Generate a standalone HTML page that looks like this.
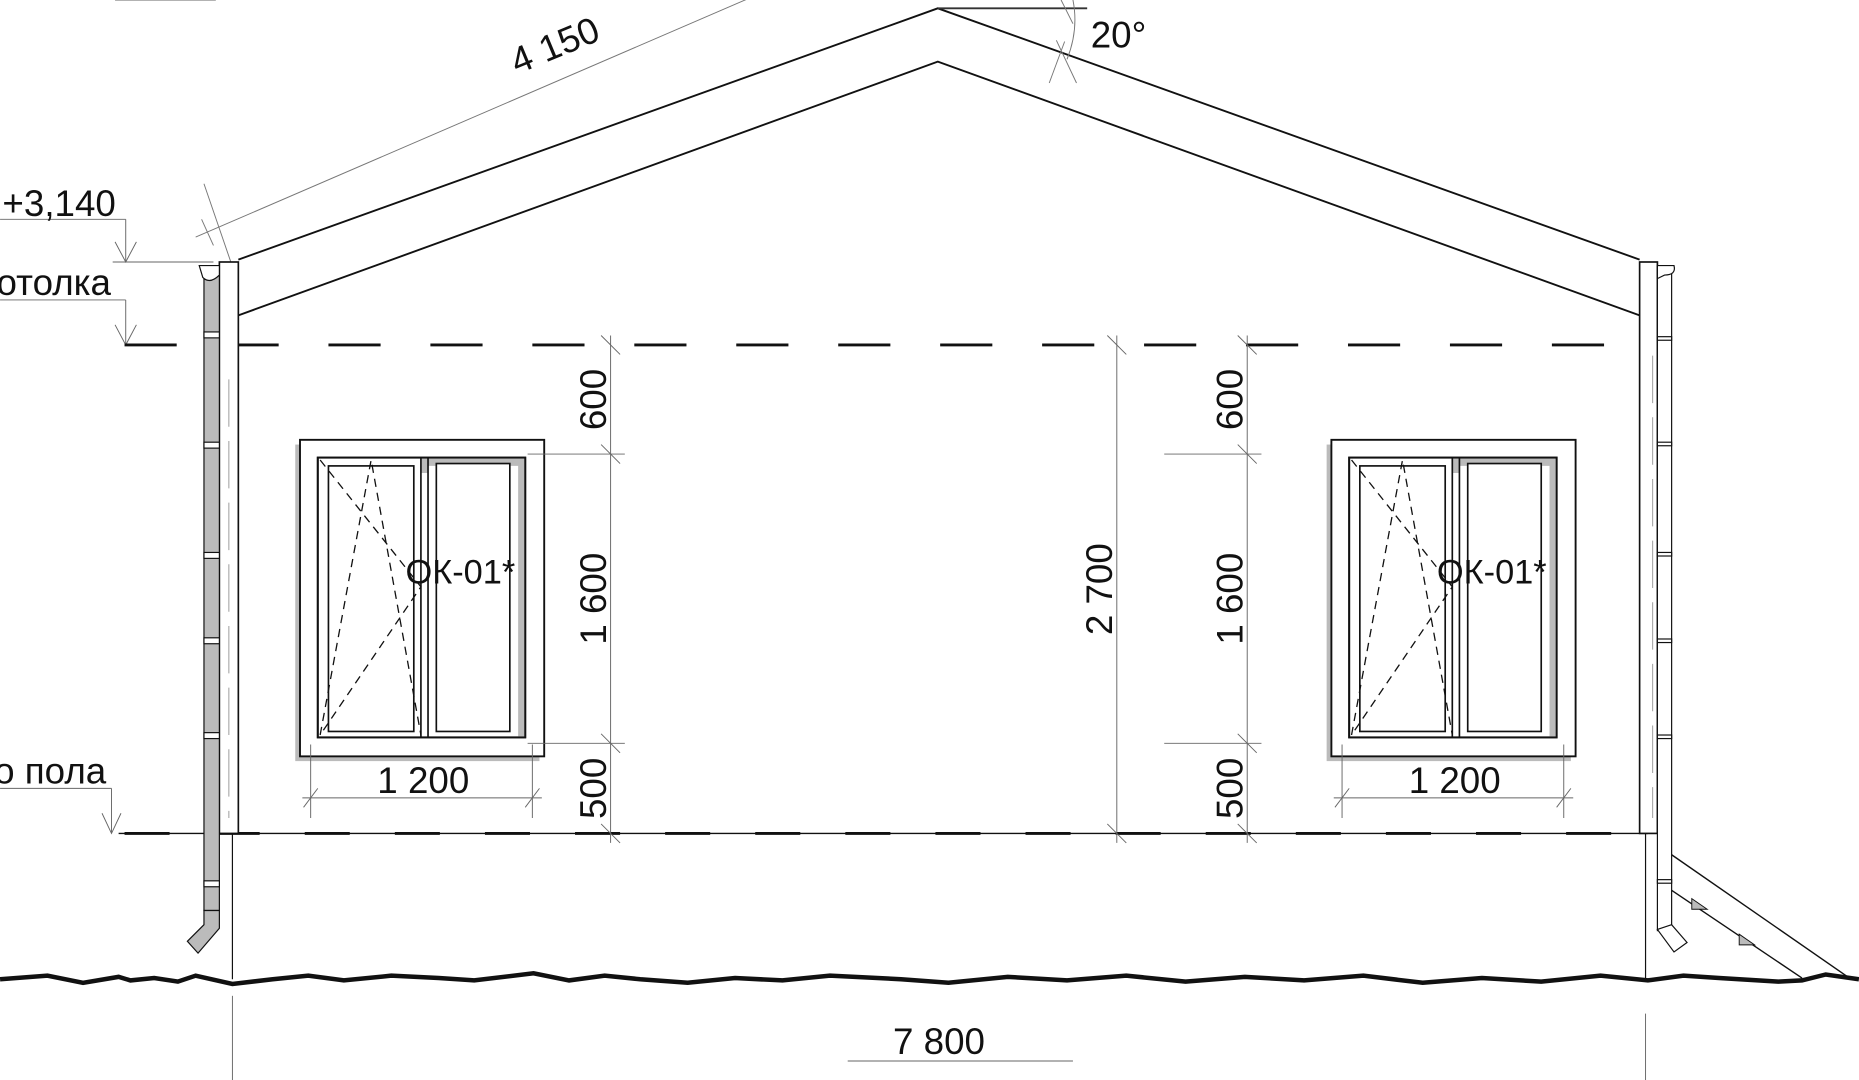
<!DOCTYPE html>
<html><head><meta charset="utf-8"><style>html,body{margin:0;padding:0;background:#fff}svg{display:block}text{font-family:"Liberation Sans",sans-serif;fill:#111}</style></head><body>
<svg width="1859" height="1080" viewBox="0 0 1568 911" xmlns="http://www.w3.org/2000/svg">
<defs>
<g id="win">
<rect x="249" y="375" width="206" height="267" fill="#bbb"/>
<rect x="253" y="371" width="206" height="267" fill="#fff" stroke="#111" stroke-width="1.6"/>
<rect x="268" y="386" width="175" height="236" fill="#fff" stroke="#111" stroke-width="1.6"/>
<polygon points="268,386 443,386 443,622 437,622 437,393 361,393 361,399 355,399 355,386" fill="#bbb"/>
<rect x="268" y="386" width="175" height="236" fill="none" stroke="#111" stroke-width="1.6"/>
<line x1="355" y1="386" x2="355" y2="622" stroke="#111" stroke-width="1.4"/>
<line x1="361" y1="386" x2="361" y2="622" stroke="#111" stroke-width="1.4"/>
<rect x="277" y="393" width="72" height="224" fill="#fff" stroke="#111" stroke-width="1.4"/>
<rect x="368" y="391" width="62" height="226" fill="#fff" stroke="#111" stroke-width="1.4"/>
<polyline points="270,388 355,495 270,620" fill="none" stroke="#111" stroke-width="1.1" stroke-dasharray="7,5"/>
<polyline points="270,620 313,388 355,620" fill="none" stroke="#111" stroke-width="1.1" stroke-dasharray="7,5"/>
<text x="342" y="492" font-size="29">ОК-01*</text>
<g stroke="#666" stroke-width="0.8">
<line x1="262" y1="628" x2="262" y2="690"/><line x1="449" y1="628" x2="449" y2="690"/>
<line x1="255" y1="673" x2="457" y2="673"/>
<line x1="256" y1="681" x2="268" y2="665"/><line x1="443" y1="681" x2="455" y2="665"/>
</g>
<text x="357" y="669" font-size="31" text-anchor="middle">1 200</text>
</g>
<g id="vdim">
<g stroke="#666" stroke-width="0.8">
<line x1="515" y1="283" x2="515" y2="711"/>
<line x1="445" y1="383" x2="527" y2="383"/><line x1="445" y1="627" x2="527" y2="627"/>
<line x1="507" y1="283" x2="523" y2="299"/><line x1="507" y1="375" x2="523" y2="391"/>
<line x1="507" y1="619" x2="523" y2="635"/><line x1="507" y1="695" x2="523" y2="711"/>
</g>
<text transform="translate(511,337) rotate(-90)" font-size="31" text-anchor="middle">600</text>
<text transform="translate(511,505) rotate(-90)" font-size="31" text-anchor="middle">1 600</text>
<text transform="translate(511,665) rotate(-90)" font-size="31" text-anchor="middle">500</text>
</g>
</defs>

<polyline points="201,219 791,7 1383,219" fill="none" stroke="#111" stroke-width="1.6"/>
<polyline points="201,266 791,52 1383,266" fill="none" stroke="#111" stroke-width="1.6"/>
<line x1="791" y1="7" x2="917" y2="7" stroke="#333" stroke-width="1.6"/>
<path d="M 905 0 Q 910 25 900 50" fill="none" stroke="#777" stroke-width="0.8"/>
<g stroke="#777" stroke-width="0.8"><line x1="895" y1="0" x2="905" y2="20"/><line x1="891" y1="34" x2="908" y2="70"/><line x1="898" y1="35" x2="885" y2="70"/></g>
<text x="920" y="40" font-size="31">20°</text>
<g stroke="#777" stroke-width="0.8">
<line x1="165" y1="200" x2="640" y2="-5"/>
<line x1="172" y1="155" x2="195" y2="222"/>
<line x1="170" y1="185" x2="180" y2="207"/>
</g>
<text transform="translate(472,48) rotate(-22.5)" font-size="31" text-anchor="middle">4 150</text>

<g stroke="#666" stroke-width="0.8" fill="none">
<line x1="97" y1="0" x2="182" y2="0"/>
<line x1="0" y1="185" x2="106" y2="185"/><line x1="106" y1="185" x2="106" y2="221"/><polyline points="97,204 106,221 115,204"/>
<line x1="95" y1="221" x2="180" y2="221"/>
<line x1="0" y1="253" x2="106" y2="253"/><line x1="106" y1="253" x2="106" y2="291"/><polyline points="97,274 106,291 115,274"/>
<line x1="0" y1="665" x2="94" y2="665"/><line x1="94" y1="665" x2="94" y2="703"/><polyline points="86,686 94,703 102,686"/>
</g>
<text x="2" y="182" font-size="31">+3,140</text>
<text x="-3" y="249" font-size="31">отолка</text>
<text x="-5" y="661" font-size="31">о пола</text>

<line x1="105" y1="291" x2="1390" y2="291" stroke="#111" stroke-width="2.4" stroke-dasharray="44,42"/>
<line x1="100" y1="703" x2="1390" y2="703" stroke="#111" stroke-width="1.2"/>
<line x1="105" y1="703" x2="1390" y2="703" stroke="#111" stroke-width="2.4" stroke-dasharray="38,38"/>

<rect x="185" y="221" width="16" height="482" fill="#fff" stroke="#111" stroke-width="1.4"/>
<line x1="196" y1="703" x2="196" y2="826" stroke="#111" stroke-width="1"/>
<line x1="193" y1="320" x2="193" y2="690" stroke="#999" stroke-width="0.8" stroke-dasharray="40,12"/>
<rect x="172" y="228" width="13" height="540" fill="#bbb" stroke="#111" stroke-width="1"/>
<path d="M168 224 h17 v8 q-8 8 -14 2 z" fill="#fff" stroke="#111" stroke-width="1"/>
<g stroke="#111" stroke-width="1" fill="#fff">
<rect x="172" y="280" width="13" height="5"/><rect x="172" y="373" width="13" height="5"/><rect x="172" y="466" width="13" height="5"/><rect x="172" y="538" width="13" height="5"/><rect x="172" y="618" width="13" height="5"/><rect x="172" y="743" width="13" height="5"/>
</g>
<polygon points="172,768 185,768 185,783 167,804 158,794 172,780" fill="#bbb" stroke="#111" stroke-width="1"/>

<rect x="1383" y="221" width="15" height="482" fill="#fff" stroke="#111" stroke-width="1.4"/>
<line x1="1388" y1="703" x2="1388" y2="826" stroke="#111" stroke-width="1"/>
<line x1="1394" y1="300" x2="1394" y2="690" stroke="#999" stroke-width="0.8" stroke-dasharray="40,12"/>
<rect x="1398" y="225" width="12" height="560" fill="#fff" stroke="#111" stroke-width="1"/>
<path d="M1398 224 h14 q2 8 -8 8 l-6 3 z" fill="#fff" stroke="#111" stroke-width="1"/>
<g stroke="#111" stroke-width="1" fill="#fff">
<rect x="1398" y="284" width="12" height="3"/><rect x="1398" y="373" width="12" height="3"/><rect x="1398" y="466" width="12" height="3"/><rect x="1398" y="539" width="12" height="3"/><rect x="1398" y="620" width="12" height="3"/><rect x="1398" y="742" width="12" height="3"/>
</g>
<polygon points="1398,784 1410,780 1423,795 1412,803" fill="#fff" stroke="#111" stroke-width="1"/>
<g stroke="#111" stroke-width="1.2" fill="none">
<line x1="1410" y1="721" x2="1560" y2="825"/>
<line x1="1410" y1="751" x2="1520" y2="825"/>
</g>
<polygon points="1427,758 1440,767 1427,767" fill="#bbb" stroke="#111" stroke-width="0.8"/>
<polygon points="1467,788 1480,797 1467,797" fill="#bbb" stroke="#111" stroke-width="0.8"/>

<polyline points="0,826 40,823 70,829 100,824 110,827 130,825 150,828 165,823 196,830 230,826 260,823 290,827 330,823 370,825 400,827 450,821 480,827 510,823 540,826 580,829 620,825 660,827 700,823 760,826 800,829 850,824 900,827 950,823 1000,828 1050,824 1100,827 1150,823 1200,829 1250,825 1300,828 1350,823 1390,827 1420,823 1450,825 1500,828 1520,827 1540,822 1568,826" fill="none" stroke="#111" stroke-width="3.8"/>

<use href="#win"/>
<use href="#win" transform="translate(870,0)"/>
<use href="#vdim"/>
<use href="#vdim" transform="translate(537,0)"/>
<g stroke="#666" stroke-width="0.8">
<line x1="942" y1="283" x2="942" y2="711"/>
<line x1="934" y1="283" x2="950" y2="299"/><line x1="934" y1="695" x2="950" y2="711"/>
</g>
<text transform="translate(938,497) rotate(-90)" font-size="31" text-anchor="middle">2 700</text>

<g stroke="#666" stroke-width="0.8">
<line x1="196" y1="840" x2="196" y2="911"/><line x1="1388" y1="855" x2="1388" y2="911"/>
<line x1="715" y1="895" x2="905" y2="895"/>
</g>
<text x="792" y="889" font-size="31" text-anchor="middle">7 800</text>
</svg>
</body></html>
